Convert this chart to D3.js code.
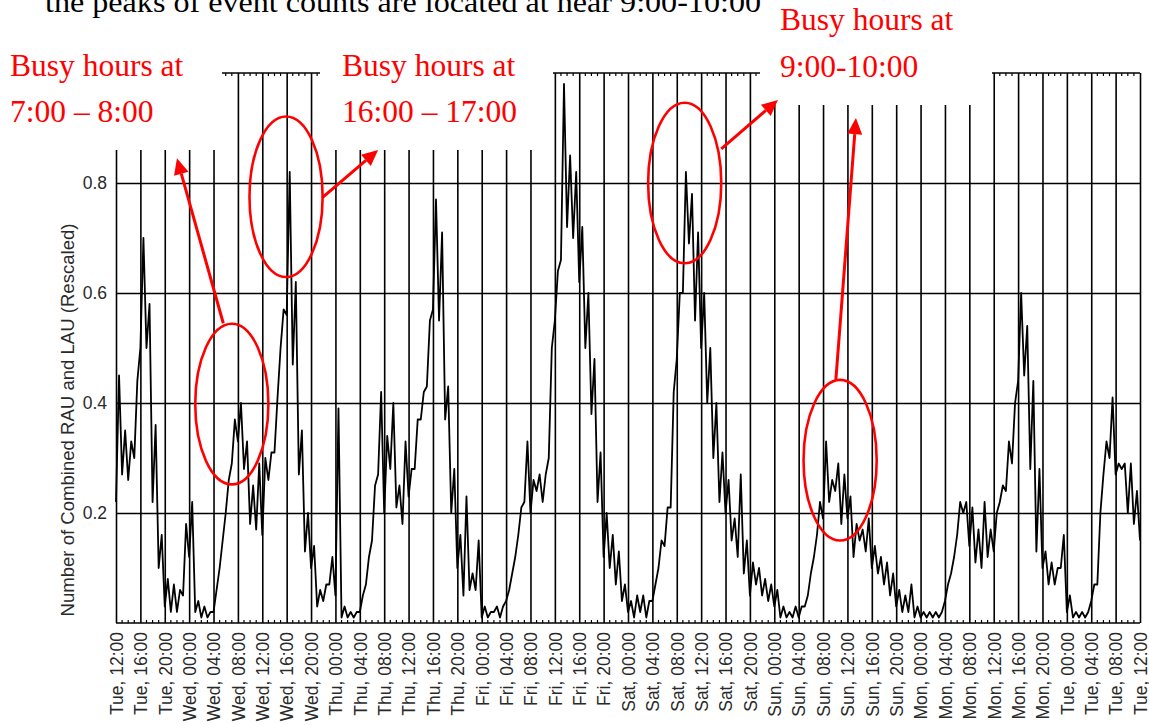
<!DOCTYPE html>
<html>
<head>
<meta charset="utf-8">
<script src="https://cdn.jsdelivr.net/npm/d3@7"></script>
<style>
  body { margin: 0; background: #fff; }
</style>
</head>
<body>
<div id="chart"></div>
<script>
// hours counted from Tue 12:00 (0) to the next Tue 12:00 (168)
const hours = d3.range(0, 169);

// per-hour lower / upper envelope of the noisy trace
const lowValues = [
  0.22, 0.27, 0.26, 0.30, 0.50, 0.50, 0.22, 0.10, 0.03, 0.02,
  0.02, 0.05, 0.12, 0.02, 0.01, 0.01, 0.02, 0.10, 0.20, 0.29,
  0.33, 0.28, 0.18, 0.17, 0.16, 0.26, 0.31, 0.50, 0.56, 0.47,
  0.27, 0.13, 0.10, 0.03, 0.04, 0.07, 0.05, 0.01, 0.01, 0.01,
  0.02, 0.07, 0.15, 0.27, 0.20, 0.28, 0.21, 0.18, 0.23, 0.28,
  0.37, 0.43, 0.57, 0.55, 0.37, 0.20, 0.10, 0.05, 0.06, 0.06,
  0.01, 0.01, 0.02, 0.01, 0.04, 0.09, 0.16, 0.22, 0.20, 0.24,
  0.22, 0.30, 0.55, 0.66, 0.72, 0.70, 0.62, 0.50, 0.38, 0.22,
  0.12, 0.10, 0.07, 0.04, 0.02, 0.01, 0.02, 0.01, 0.04, 0.10,
  0.14, 0.21, 0.48, 0.60, 0.69, 0.55, 0.50, 0.40, 0.30, 0.22,
  0.20, 0.15, 0.12, 0.09, 0.05, 0.07, 0.05, 0.04, 0.03, 0.01,
  0.01, 0.01, 0.01, 0.03, 0.09, 0.16, 0.19, 0.22, 0.24, 0.18,
  0.19, 0.12, 0.15, 0.13, 0.10, 0.09, 0.07, 0.05, 0.03, 0.02,
  0.02, 0.01, 0.01, 0.01, 0.01, 0.01, 0.04, 0.09, 0.16, 0.20,
  0.14, 0.11, 0.10, 0.12, 0.13, 0.22, 0.24, 0.29, 0.44, 0.45,
  0.28, 0.13, 0.10, 0.07, 0.07, 0.10, 0.02, 0.01, 0.01, 0.01,
  0.04, 0.07, 0.27, 0.30, 0.27, 0.28, 0.20, 0.18, 0.15
];
const highValues = [
  0.45, 0.35, 0.33, 0.44, 0.70, 0.58, 0.36, 0.16, 0.08, 0.07,
  0.06, 0.18, 0.22, 0.04, 0.03, 0.02, 0.06, 0.15, 0.26, 0.37,
  0.40, 0.33, 0.25, 0.29, 0.30, 0.31, 0.41, 0.57, 0.82, 0.62,
  0.35, 0.20, 0.14, 0.06, 0.07, 0.12, 0.39, 0.03, 0.02, 0.02,
  0.05, 0.12, 0.25, 0.42, 0.34, 0.40, 0.25, 0.33, 0.28, 0.37,
  0.42, 0.55, 0.77, 0.71, 0.43, 0.28, 0.16, 0.23, 0.09, 0.15,
  0.03, 0.02, 0.03, 0.03, 0.06, 0.12, 0.21, 0.33, 0.26, 0.27,
  0.27, 0.50, 0.64, 0.98, 0.85, 0.82, 0.72, 0.60, 0.48, 0.31,
  0.20, 0.16, 0.13, 0.07, 0.04, 0.05, 0.05, 0.04, 0.07, 0.15,
  0.21, 0.42, 0.60, 0.82, 0.78, 0.71, 0.60, 0.50, 0.40, 0.31,
  0.26, 0.19, 0.27, 0.15, 0.11, 0.10, 0.08, 0.07, 0.06, 0.03,
  0.02, 0.03, 0.03, 0.05, 0.12, 0.22, 0.33, 0.26, 0.29, 0.27,
  0.23, 0.18, 0.17, 0.19, 0.14, 0.12, 0.11, 0.09, 0.06, 0.05,
  0.07, 0.03, 0.02, 0.02, 0.02, 0.02, 0.07, 0.12, 0.22, 0.22,
  0.21, 0.17, 0.22, 0.17, 0.20, 0.25, 0.33, 0.40, 0.60, 0.54,
  0.44, 0.28, 0.13, 0.11, 0.10, 0.16, 0.05, 0.02, 0.02, 0.02,
  0.07, 0.20, 0.33, 0.41, 0.29, 0.29, 0.29, 0.24, 0.20
];

const tickLabels = [
  "Tue, 12:00", "Tue, 16:00", "Tue, 20:00",
  "Wed, 00:00", "Wed, 04:00", "Wed, 08:00", "Wed, 12:00", "Wed, 16:00", "Wed, 20:00",
  "Thu, 00:00", "Thu, 04:00", "Thu, 08:00", "Thu, 12:00", "Thu, 16:00", "Thu, 20:00",
  "Fri, 00:00", "Fri, 04:00", "Fri, 08:00", "Fri, 12:00", "Fri, 16:00", "Fri, 20:00",
  "Sat, 00:00", "Sat, 04:00", "Sat, 08:00", "Sat, 12:00", "Sat, 16:00", "Sat, 20:00",
  "Sun, 00:00", "Sun, 04:00", "Sun, 08:00", "Sun, 12:00", "Sun, 16:00", "Sun, 20:00",
  "Mon, 00:00", "Mon, 04:00", "Mon, 08:00", "Mon, 12:00", "Mon, 16:00", "Mon, 20:00",
  "Tue, 00:00", "Tue, 04:00", "Tue, 08:00", "Tue, 12:00"
];
const yTickValues = [0.2, 0.4, 0.6, 0.8];

// busy-hour callouts: ellipse centre (hour, value) and arrow from -> to
const callouts = [
  { cx: 19.0, cy: 0.398, from: [17.6, 0.545], to: [10.0, 0.845] },
  { cx: 27.9, cy: 0.775, from: [33.8, 0.773], to: [43.0, 0.860] },
  { cx: 93.3, cy: 0.800, from: [99.3, 0.862], to: [108.6, 0.951] },
  { cx: 118.8, cy: 0.296, from: [118.1, 0.442], to: [121.4, 0.918] }
];

const W = 1149, H = 725;
const margin = { top: 73, right: 9, bottom: 102, left: 116 };
const innerW = W - margin.left - margin.right;
const innerH = H - margin.top - margin.bottom;

const svg = d3.select("#chart").append("svg")
  .attr("width", W)
  .attr("height", H)
  .style("display", "block");

const x = d3.scaleLinear().domain([0, 168]).range([margin.left, margin.left + innerW]);
const y = d3.scaleLinear().domain([0, 1]).range([margin.top + innerH, margin.top]);

const axisFont = "'Liberation Sans', Arial, sans-serif";

// vertical grid + rotated day/time labels
const xAxis = svg.append("g")
  .attr("transform", `translate(0,${y(0)})`)
  .call(d3.axisBottom(x)
    .tickValues(d3.range(0, 169, 4))
    .tickFormat((d, i) => tickLabels[i])
    .tickSize(-innerH)
    .tickPadding(0));
xAxis.select(".domain").remove();
xAxis.selectAll(".tick line").attr("stroke", "#000").attr("stroke-width", 1.6);
xAxis.selectAll(".tick text")
  .attr("transform", "rotate(-90)")
  .attr("x", -9)
  .attr("y", 0)
  .attr("dy", "0.36em")
  .attr("text-anchor", "end")
  .attr("fill", "#2a2a2a")
  .style("font-family", axisFont)
  .style("font-size", "17.5px");

// horizontal grid + value labels
const yAxis = svg.append("g")
  .attr("transform", `translate(${x(0)},0)`)
  .call(d3.axisLeft(y)
    .tickValues(yTickValues)
    .tickFormat(d3.format(".1f"))
    .tickSize(-innerW)
    .tickPadding(9));
yAxis.select(".domain").remove();
yAxis.selectAll(".tick line").attr("stroke", "#000").attr("stroke-width", 1.6);
yAxis.selectAll(".tick text")
  .attr("fill", "#2a2a2a")
  .style("font-family", axisFont)
  .style("font-size", "17.5px");

// frame top and bottom
svg.append("line")
  .attr("x1", x(0)).attr("x2", x(168))
  .attr("y1", y(1)).attr("y2", y(1))
  .attr("stroke", "#000").attr("stroke-width", 1.6);
svg.append("line")
  .attr("x1", x(0)).attr("x2", x(168))
  .attr("y1", y(0)).attr("y2", y(0))
  .attr("stroke", "#000").attr("stroke-width", 1.6);

// hourly minor ticks on top and bottom edges
const minor = hours.filter(h => h % 4 !== 0);
svg.append("g").selectAll("line.minb")
  .data(minor).enter().append("line")
  .attr("x1", d => x(d)).attr("x2", d => x(d))
  .attr("y1", y(0)).attr("y2", y(0) - 3)
  .attr("stroke", "#000").attr("stroke-width", 1.2);
svg.append("g").selectAll("line.mint")
  .data(minor).enter().append("line")
  .attr("x1", d => x(d)).attr("x2", d => x(d))
  .attr("y1", y(1)).attr("y2", y(1) + 3)
  .attr("stroke", "#000").attr("stroke-width", 1.2);

// the trace: zig-zag between the hourly low and high readings
const points = [];
hours.forEach(h => {
  points.push([h, lowValues[h]]);
  if (h < 168) points.push([h + 0.5, highValues[h]]);
});
const line = d3.line().x(d => x(d[0])).y(d => y(d[1]));
svg.append("path")
  .datum(points)
  .attr("d", line)
  .attr("fill", "none")
  .attr("stroke", "#000")
  .attr("stroke-width", 1.8)
  .attr("stroke-linejoin", "round");

// y axis title
svg.append("text")
  .attr("transform", `translate(74,${(y(0) + y(1)) / 2 + 72}) rotate(-90)`)
  .attr("text-anchor", "middle")
  .attr("textLength", 393)
  .attr("lengthAdjust", "spacingAndGlyphs")
  .attr("fill", "#2a2a2a")
  .style("font-family", axisFont)
  .style("font-size", "17.5px")
  .text("Number of Combined RAU and LAU (Rescaled)");

// white boxes of the pasted annotation text hide parts of the frame
const masks = [
  { x0: 0, x1: 222, y1: 150 },
  { x0: 320, x1: 553, y1: 150 },
  { x0: 760, x1: 992, y1: 105 }
];
svg.selectAll("rect.mask")
  .data(masks).enter().append("rect")
  .attr("x", d => d.x0).attr("y", 0)
  .attr("width", d => d.x1 - d.x0).attr("height", d => d.y1)
  .attr("fill", "#fff");

// clipped caption from the page above
svg.append("text")
  .attr("x", 45).attr("y", 12)
  .attr("textLength", 716)
  .attr("lengthAdjust", "spacingAndGlyphs")
  .attr("fill", "#000")
  .style("font-family", "'Liberation Serif', 'Times New Roman', serif")
  .style("font-size", "30px")
  .text("the peaks of event counts are located at near 9:00-10:00");

// red annotation texts
const redFont = "'Liberation Serif', 'Times New Roman', serif";
const notes = [
  { x: 10, y: 76, t: "Busy hours at" },
  { x: 10, y: 122, t: "7:00 \u2013 8:00" },
  { x: 342, y: 76, t: "Busy hours at" },
  { x: 342, y: 122, t: "16:00 \u2013 17:00" },
  { x: 780, y: 30, t: "Busy hours at" },
  { x: 780, y: 77, t: "9:00-10:00" }
];
svg.selectAll("text.note")
  .data(notes).enter().append("text")
  .attr("class", "note")
  .attr("x", d => d.x).attr("y", d => d.y)
  .attr("fill", "#ff0000")
  .style("font-family", redFont)
  .style("font-size", "31.5px")
  .text(d => d.t);

// ellipses and arrows
const rxHours = 6.0, ryValue = 0.146;
svg.selectAll("ellipse.busy")
  .data(callouts).enter().append("ellipse")
  .attr("cx", d => x(d.cx)).attr("cy", d => y(d.cy))
  .attr("rx", x(rxHours) - x(0))
  .attr("ry", y(0) - y(ryValue))
  .attr("fill", "none")
  .attr("stroke", "#ff0000")
  .attr("stroke-width", 2.6);

callouts.forEach(c => {
  const x1 = x(c.from[0]), y1 = y(c.from[1]);
  const x2 = x(c.to[0]), y2 = y(c.to[1]);
  const len = Math.hypot(x2 - x1, y2 - y1);
  const ux = (x2 - x1) / len, uy = (y2 - y1) / len;
  const headL = 16, headW = 7.5;
  const bx = x2 - ux * headL, by = y2 - uy * headL;
  svg.append("line")
    .attr("x1", x1).attr("y1", y1)
    .attr("x2", bx).attr("y2", by)
    .attr("stroke", "#ff0000")
    .attr("stroke-width", 3);
  svg.append("polygon")
    .attr("points", [
      [x2, y2],
      [bx - uy * headW, by + ux * headW],
      [bx + uy * headW, by - ux * headW]
    ].map(p => p.join(",")).join(" "))
    .attr("fill", "#ff0000");
});
</script>
</body>
</html>
